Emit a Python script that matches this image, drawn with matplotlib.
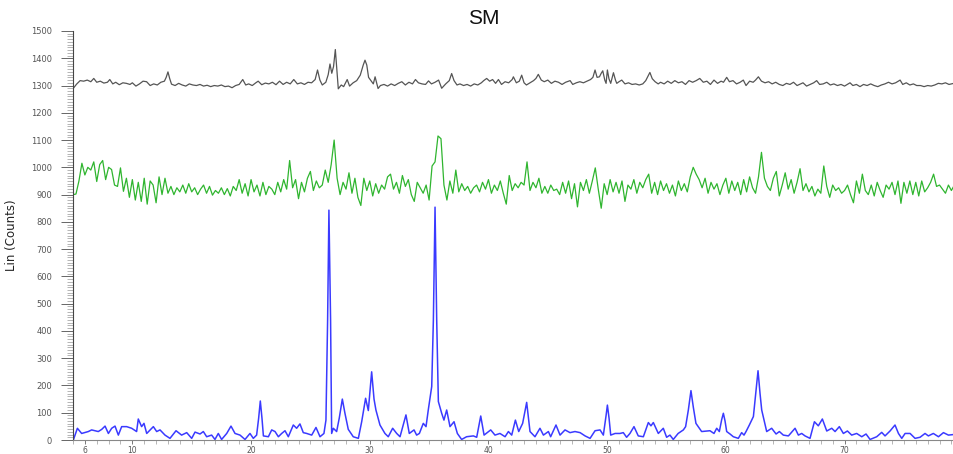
import matplotlib
matplotlib.use("Agg")
import matplotlib.pyplot as plt
import numpy as np
from matplotlib.ticker import MultipleLocator, FixedLocator

# --- data (2-theta in degrees, intensity in counts) ---

# top trace (dark gray), offset around 1300
top_2theta = [5.03, 5.3, 5.6, 5.9, 6.2, 6.5, 6.75, 7.0, 7.3, 7.6, 7.9, 8.1, 8.35, 8.6, 8.9, 9.2,
              9.5, 9.8, 10.0, 10.3, 10.6, 10.9, 11.2, 11.5, 11.8, 12.1, 12.4, 12.7, 12.85, 13.0,
              13.15, 13.3, 13.6, 13.9, 14.2, 14.5, 14.8, 15.1, 15.4, 15.7, 16.0, 16.3, 16.6,
              16.9, 17.2, 17.5, 17.8, 18.1, 18.4, 18.7, 19.0, 19.3, 19.55, 19.8, 20.1, 20.4,
              20.6, 20.9, 21.2, 21.5, 21.8, 22.1, 22.4, 22.7, 23.0, 23.3, 23.6, 23.9, 24.2,
              24.5, 24.8, 25.1, 25.4, 25.6, 25.8, 26.0, 26.3, 26.5, 26.65, 26.8, 26.95, 27.1,
              27.25, 27.35, 27.6, 27.8, 28.1, 28.3, 28.6, 28.9, 29.2, 29.45, 29.6, 29.75, 29.9,
              30.1, 30.3, 30.45, 30.7, 30.9, 31.2, 31.5, 31.8, 32.1, 32.4, 32.7, 33.0, 33.3,
              33.6, 33.85, 34.1, 34.4, 34.7, 34.95, 35.2, 35.5, 35.8, 36.06, 36.4, 36.7, 36.9,
              37.1, 37.35, 37.6, 37.9, 38.2, 38.5, 38.8, 39.1, 39.4, 39.6, 39.85, 40.1, 40.35,
              40.6, 40.84, 41.1, 41.4, 41.7, 42.0, 42.1, 42.35, 42.6, 42.8, 43.0, 43.2, 43.5,
              43.8, 44.0, 44.2, 44.45, 44.7, 45.0, 45.3, 45.6, 45.9, 46.2, 46.5, 46.88, 47.1,
              47.4, 47.7, 48.0, 48.3, 48.6, 48.8, 48.98, 49.15, 49.35, 49.5, 49.63, 49.8, 49.91,
              50.02, 50.15, 50.3, 50.53, 50.7, 50.81, 51.0, 51.23, 51.5, 51.8, 52.1, 52.4, 52.7,
              53.0, 53.25, 53.45, 53.6, 53.8, 54.04, 54.3, 54.5, 54.8, 55.1, 55.4, 55.7, 56.0,
              56.3, 56.6, 56.9, 57.2, 57.5, 57.8, 58.1, 58.4, 58.7, 59.0, 59.3, 59.6, 59.8,
              60.07, 60.3, 60.6, 60.9, 61.2, 61.47, 61.7, 62.0, 62.3, 62.5, 62.74, 63.0, 63.3,
              63.6, 63.9, 64.2, 64.5, 64.8, 65.1, 65.4, 65.7, 66.0, 66.3, 66.5, 66.8, 67.1,
              67.4, 67.65, 67.9, 68.2, 68.5, 68.8, 69.1, 69.4, 69.7, 70.0, 70.3, 70.46, 70.7,
              71.0, 71.3, 71.6, 71.9, 72.2, 72.5, 72.8, 73.1, 73.4, 73.7, 74.0, 74.3, 74.68,
              74.9, 75.2, 75.5, 75.8, 76.08, 76.4, 76.7, 77.0, 77.3, 77.6, 77.9, 78.2, 78.5,
              78.8, 79.2]
top_counts = [1290, 1305, 1318, 1316, 1320, 1314, 1326, 1312, 1316, 1309, 1312, 1322, 1306, 1312,
              1303, 1310, 1308, 1304, 1310, 1298, 1306, 1316, 1314, 1300, 1306, 1302, 1312, 1316,
              1330, 1350, 1325, 1305, 1300, 1308, 1302, 1298, 1306, 1302, 1300, 1304, 1298, 1301,
              1296, 1300, 1298, 1302, 1296, 1298, 1292, 1300, 1304, 1322, 1302, 1306, 1300, 1310,
              1316, 1303, 1309, 1306, 1312, 1303, 1316, 1304, 1312, 1306, 1322, 1306, 1310, 1304,
              1312, 1310, 1322, 1357, 1320, 1302, 1312, 1340, 1379, 1345, 1370, 1432, 1345, 1288,
              1302, 1296, 1322, 1298, 1310, 1318, 1338, 1375, 1393, 1375, 1330, 1318, 1306, 1332,
              1289, 1300, 1304, 1298, 1306, 1300, 1308, 1314, 1302, 1312, 1306, 1322, 1310, 1306,
              1304, 1317, 1306, 1312, 1320, 1290, 1306, 1318, 1344, 1318, 1302, 1306, 1300, 1304,
              1298, 1306, 1302, 1310, 1318, 1326, 1316, 1322, 1308, 1322, 1304, 1314, 1310, 1322,
              1332, 1310, 1316, 1338, 1310, 1302, 1310, 1318, 1326, 1341, 1320, 1314, 1320, 1308,
              1316, 1312, 1304, 1312, 1318, 1304, 1310, 1314, 1310, 1316, 1322, 1330, 1357, 1330,
              1332, 1345, 1354, 1320, 1308, 1357, 1325, 1308, 1347, 1320, 1308, 1314, 1320, 1306,
              1310, 1304, 1306, 1302, 1306, 1318, 1335, 1348, 1325, 1314, 1306, 1312, 1306, 1316,
              1308, 1318, 1310, 1314, 1304, 1318, 1312, 1318, 1326, 1312, 1316, 1304, 1320, 1308,
              1316, 1312, 1330, 1314, 1318, 1306, 1312, 1320, 1300, 1316, 1312, 1320, 1332, 1316,
              1310, 1314, 1306, 1312, 1304, 1300, 1308, 1304, 1312, 1300, 1306, 1310, 1298, 1304,
              1310, 1318, 1304, 1306, 1312, 1302, 1306, 1300, 1304, 1298, 1306, 1310, 1300, 1304,
              1296, 1304, 1300, 1306, 1300, 1296, 1302, 1306, 1312, 1306, 1310, 1320, 1304, 1310,
              1302, 1306, 1300, 1300, 1296, 1300, 1298, 1302, 1308, 1306, 1310, 1304, 1308]

# middle trace (green), read every 0.25 degree starting at 5.0
mid_start, mid_step = 5.0, 0.25
mid_counts = [
    900, 902, 950, 1015, 972, 1000, 990, 1020, 948, 1010, 1025, 955, 1000, 992, 935, 930,
    998, 912, 960, 890, 955, 880, 945, 875, 960, 865, 950, 935, 870, 965, 900, 960, 905, 930,
    900, 925, 910, 935, 905, 940,
    910, 925, 900, 920, 935, 905, 930, 898, 915, 905, 925, 900, 922, 895, 930, 915, 955, 905,
    940, 895, 955, 910, 935, 895, 945, 900, 930, 920, 900, 945, 910, 955, 920, 1025, 925, 955,
    885, 945, 910, 960,
    985, 915, 950, 925, 935, 990, 945, 1010, 1100, 960, 900, 945, 920, 980, 905, 960, 890,
    860, 960, 915, 950, 895, 940, 905, 935, 920, 965, 975, 920, 945, 905, 970, 930, 955, 900,
    875, 945, 925, 905, 935,
    880, 1005, 1020, 1115, 1105, 935, 880, 950, 905, 990, 910, 940, 915, 930, 905, 925, 935,
    910, 945, 920, 955, 905, 935, 915, 950, 905, 865, 970, 915, 940, 925, 945, 935, 1020, 915,
    945, 925, 960, 905, 930,
    905, 935, 915, 920, 900, 945, 905, 950, 885, 940, 855, 945, 915, 955, 905, 950, 998, 920,
    850, 940, 900, 955, 910, 945, 905, 950, 875, 935, 920, 955, 905, 945, 925, 955, 975, 905,
    945, 900, 950, 915,
    940, 905, 935, 895, 950, 915, 940, 910, 965, 1000, 975, 955, 925, 960, 905, 945, 920, 940,
    900, 935, 960, 905, 950, 915, 945, 900, 955, 910, 965, 925, 905, 965, 1055, 960, 930, 915,
    960, 985, 895, 935,
    980, 920, 955, 905, 945, 995, 915, 940, 910, 930, 895, 920, 905, 1005, 930, 890, 935, 915,
    925, 905, 915, 935, 900, 870, 950, 905, 975, 915, 900, 935, 895, 945, 915, 890, 935, 920,
    945, 900, 950, 868,
    945, 905, 950, 900, 945, 895, 950, 910, 925, 945, 975, 930, 935, 920, 905, 935, 915, 935]

# bottom trace (blue), sample pattern
low_2theta = [5.03, 5.37, 5.73, 6.29, 6.57, 7.13, 7.42, 7.70, 7.98, 8.26, 8.54, 8.82, 9.10, 9.52,
              9.94, 10.36, 10.50, 10.78, 10.98, 11.21, 11.77, 12.05, 12.33, 12.75, 13.17, 13.68,
              14.15, 14.58, 15.00, 15.28, 15.70, 15.98, 16.26, 16.68, 16.96, 17.24, 17.52, 17.95,
              18.31, 18.65, 19.07, 19.49, 19.91, 20.19, 20.47, 20.64, 20.78, 20.92, 21.04, 21.46,
              21.74, 22.02, 22.30, 22.58, 22.86, 23.14, 23.56, 23.84, 24.12, 24.40, 24.69, 25.11,
              25.47, 25.81, 26.14, 26.31, 26.45, 26.56, 26.70, 26.79, 26.93, 27.21, 27.43, 27.69,
              27.91, 28.19, 28.61, 29.04, 29.32, 29.65, 29.88, 30.16, 30.36, 30.52, 30.86, 31.28,
              31.56, 31.93, 32.27, 32.55, 33.05, 33.33, 33.73, 33.95, 34.18, 34.51, 34.74, 34.93,
              35.22, 35.36, 35.50, 35.64, 35.78, 36.06, 36.25, 36.48, 36.76, 37.10, 37.38, 37.74,
              38.16, 38.73, 39.01, 39.35, 39.63, 40.19, 40.55, 40.97, 41.40, 41.68, 41.96, 42.27,
              42.55, 42.88, 43.22, 43.50, 43.92, 44.34, 44.63, 45.05, 45.24, 45.69, 46.03, 46.45,
              46.87, 47.29, 47.72, 48.14, 48.56, 48.98, 49.40, 49.68, 49.91, 50.02, 50.16, 50.30,
              50.67, 51.08, 51.36, 51.64, 51.92, 52.26, 52.62, 53.05, 53.47, 53.69, 53.89, 54.31,
              54.73, 55.01, 55.29, 55.57, 55.98, 56.42, 56.61, 56.84, 57.06, 57.26, 57.48, 57.96,
              58.66, 59.00, 59.23, 59.45, 59.65, 59.79, 59.93, 60.07, 60.35, 60.63, 61.05, 61.33,
              61.53, 61.70, 61.98, 62.32, 62.54, 62.71, 62.88, 63.02, 63.44, 63.86, 64.23, 64.51,
              64.84, 65.27, 65.83, 66.11, 66.39, 66.67, 67.09, 67.46, 67.79, 68.13, 68.50, 68.92,
              69.20, 69.56, 69.90, 70.24, 70.60, 71.02, 71.45, 71.81, 72.15, 72.71, 73.13, 73.41,
              73.83, 74.25, 74.54, 74.82, 75.10, 75.52, 75.94, 76.36, 76.78, 77.06, 77.48, 77.91,
              78.33, 78.75, 79.17]
low_counts = [0, 43, 24, 31, 37, 31, 39, 51, 24, 43, 51, 18, 49, 49, 43, 31, 77, 49, 61, 24, 49,
              31, 37, 18, 6, 34, 18, 27, 6, 29, 22, 31, 12, 18, 2, 24, 2, 24, 51, 24, 18, 2, 24,
              6, 18, 80, 143, 80, 15, 12, 37, 31, 12, 24, 34, 12, 55, 43, 59, 27, 24, 18, 46, 12,
              24, 73, 440, 843, 440, 24, 43, 31, 80, 150, 98, 39, 12, 6, 67, 153, 108, 250, 150,
              110, 55, 24, 12, 43, 24, 12, 92, 24, 37, 18, 24, 61, 49, 110, 196, 440, 854, 440,
              141, 98, 73, 110, 49, 67, 24, 2, 12, 15, 10, 88, 18, 37, 18, 24, 12, 31, 18, 73, 31,
              61, 138, 31, 12, 43, 18, 31, 12, 55, 18, 37, 27, 31, 27, 15, 6, 34, 37, 18, 90, 128,
              80, 18, 24, 24, 27, 10, 24, 49, 15, 12, 64, 52, 64, 24, 43, 10, 18, 2, 24, 37, 49,
              110, 181, 120, 61, 31, 34, 24, 43, 31, 75, 98, 70, 31, 22, 12, 6, 27, 18, 31, 55,
              86, 180, 254, 170, 110, 31, 43, 22, 31, 18, 15, 43, 18, 24, 15, 6, 67, 52, 77, 33,
              43, 31, 49, 24, 33, 18, 24, 12, 22, 2, 12, 28, 15, 33, 55, 24, 6, 24, 24, 6, 10, 24,
              15, 24, 12, 27, 18, 20]

x_major = [6, 10, 20, 30, 40, 50, 60, 70]

mid_2theta = mid_start + mid_step * np.arange(len(mid_counts))

fig = plt.figure(figsize=(9.54, 4.54), dpi=100)
ax = fig.add_axes([73 / 954, 14 / 454, 1 - 73 / 954, 409 / 454])

ax.plot(top_2theta, top_counts, color="#555555", lw=0.9)
ax.plot(mid_2theta, mid_counts, color="#2fb52f", lw=0.9)
ax.plot(low_2theta, low_counts, color="#3a3aff", lw=1.1)

ax.set_xlim(5, 79.22)
ax.set_ylim(0, 1500)

for side in ("top", "right"):
    ax.spines[side].set_visible(False)
ax.spines["left"].set_color("#444444")
ax.spines["bottom"].set_color("#888888")

ax.xaxis.set_major_locator(FixedLocator(x_major))
ax.xaxis.set_minor_locator(MultipleLocator(1))
ax.yaxis.set_major_locator(MultipleLocator(100))
ax.yaxis.set_minor_locator(MultipleLocator(10))

ax.tick_params(axis="y", which="major", length=9, width=0.7, color="#666666",
               labelsize=6, labelcolor="#555555", pad=6)
ax.tick_params(axis="y", which="minor", length=4, width=0.5, color="#999999")
ax.tick_params(axis="x", which="major", length=3, width=0.7, color="#777777",
               labelsize=5.5, labelcolor="#555555", pad=1)
ax.tick_params(axis="x", which="minor", length=3, width=0.5, color="#999999")

ax.set_ylabel("Lin (Counts)", fontsize=8.5, color="#222222", labelpad=10)
ax.yaxis.set_label_coords(-0.062, 0.50)
fig.text(0.507, 0.96, "SM", ha="center", va="center", fontsize=15,
         family="Liberation Sans", color="#111111")

fig.savefig("out.png", dpi=100)
